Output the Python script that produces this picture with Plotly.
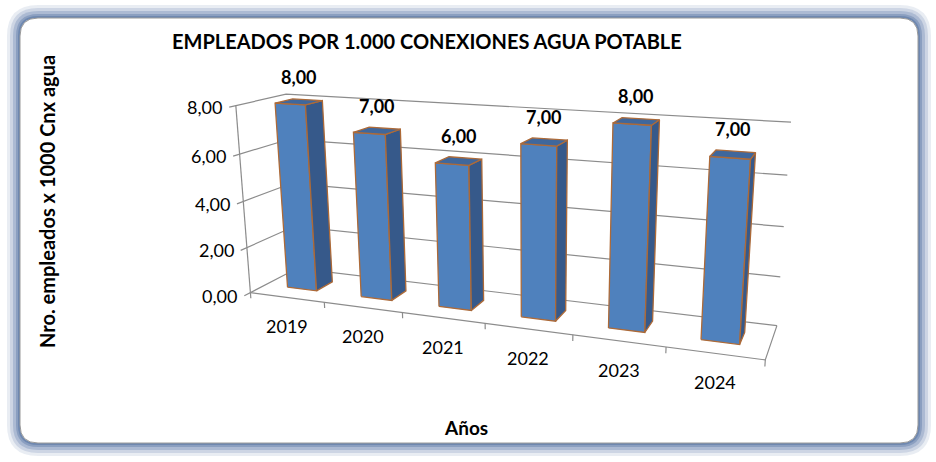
import numpy as np
import plotly.graph_objects as go

# data
years = ["2019", "2020", "2021", "2022", "2023", "2024"]
empleados = [8.00, 7.00, 6.00, 7.00, 8.00, 7.00]
y_ticks = [0, 2, 4, 6, 8]

W, H = 936, 462
FONT = "Lato"
GRID = "#8c8c8c"
EDGE = "#ad6a38"

# calibration of the excel 3-D view: (slot, depth, value) -> pixel
view_world = np.array([
    (0, 0, 0), (0, 0, 8), (0, 1, 8), (0, 1, 0), (6, 1, 8),
    (6, 1, 0), (6, 0, 0), (0, 0, 4), (6, 1, 4), (3, 0, 0),
], dtype=float)
view_pixel = np.array([
    (250, 292), (237, 105), (285, 95), (298, 268), (791, 122),
    (777, 325), (765, 359), (243, 201), (784, 227), (485, 326),
], dtype=float)


def fit_view(world, pixel):
    """DLT fit of a 3x4 perspective matrix."""
    mu = pixel.mean(0)
    s = np.sqrt(2) / np.mean(np.linalg.norm(pixel - mu, axis=1))
    T = np.array([[s, 0, -s * mu[0]], [0, s, -s * mu[1]], [0, 0, 1]])
    pn = (T @ np.c_[pixel, np.ones(len(pixel))].T).T
    rows = []
    for (X, Y, Z), (u, v, _) in zip(world, pn):
        w = [X, Y, Z, 1.0]
        rows.append(w + [0] * 4 + [-u * c for c in w])
        rows.append([0] * 4 + w + [-v * c for c in w])
    _, _, vt = np.linalg.svd(np.array(rows))
    return np.linalg.inv(T) @ vt[-1].reshape(3, 4)


P = fit_view(view_world, view_pixel)


def proj(X, Y, Z):
    h = P @ np.array([X, Y, Z, 1.0])
    return h[0] / h[2], h[1] / h[2]


def polyline(segments):
    xs, ys = [], []
    for seg in segments:
        for p in seg:
            x, y = proj(*p)
            xs.append(x)
            ys.append(y)
        xs.append(None)
        ys.append(None)
    return xs, ys


def rrect(x0, y0, x1, y1, r):
    return (f"M {x0 + r},{y0} L {x1 - r},{y0} Q {x1},{y0} {x1},{y0 + r} "
            f"L {x1},{y1 - r} Q {x1},{y1} {x1 - r},{y1} L {x0 + r},{y1} "
            f"Q {x0},{y1} {x0},{y1 - r} L {x0},{y0 + r} Q {x0},{y0} {x0 + r},{y0} Z")


n = len(years)
zmax = max(y_ticks)
fig = go.Figure()

# walls: gridlines + ticks, axis lines, floor
grid = [[(0, -0.12, z), (0, 0, z), (0, 1, z), (n, 1, z)] for z in y_ticks]
gx, gy = polyline(grid)
fig.add_trace(go.Scatter(x=gx, y=gy, mode="lines", line=dict(color=GRID, width=1.2), hoverinfo="skip"))
axes = [[(0, 0, 0), (0, 0, zmax)], [(0, 0, 0), (n, 0, 0), (n, 1, 0)]]
axes += [[(i, 0, 0), (i, 0, -0.25)] for i in range(n + 1)]
ax_, ay_ = polyline(axes)
fig.add_trace(go.Scatter(x=ax_, y=ay_, mode="lines", line=dict(color=GRID, width=1.2), hoverinfo="skip"))

# bars
half, d0, d1 = 0.2, 0.32, 0.68
for i, v in enumerate(empleados):
    x0, x1 = i + 0.5 - half, i + 0.5 + half
    faces = [
        ([(x0, d0, 0), (x1, d0, 0), (x1, d0, v), (x0, d0, v)], "#4f81bd"),
        ([(x1, d0, 0), (x1, d1, 0), (x1, d1, v), (x1, d0, v)], "#36598a"),
        ([(x0, d0, v), (x1, d0, v), (x1, d1, v), (x0, d1, v)], "#3f679c"),
    ]
    for pts, col in faces:
        fx, fy = polyline([pts + [pts[0]]])
        fig.add_trace(go.Scatter(x=fx[:-1], y=fy[:-1], mode="lines", fill="toself",
                                 fillcolor=col, line=dict(color=EDGE, width=1.3),
                                 hoverinfo="skip"))
    lx, ly = proj(i + 0.5, 0.5, v)
    fig.add_annotation(x=lx, y=ly, yshift=25, text=f"<b>{v:.2f}</b>".replace(".", ","),
                       showarrow=False, font=dict(size=18, color="black", family=FONT))
    cx, cy = proj(i + 0.5, 0, 0)
    fig.add_annotation(x=cx, y=cy, yshift=-29, text=years[i], showarrow=False,
                       font=dict(size=18, color="black", family=FONT))

for z in y_ticks:
    tx, ty = proj(0, -0.12, z)
    fig.add_annotation(x=tx, y=ty, xanchor="right", xshift=-5, text=f"{z:.2f}".replace(".", ","),
                       showarrow=False, font=dict(size=18, color="black", family=FONT))

fig.add_annotation(x=427, y=41, text="<b>EMPLEADOS POR 1.000 CONEXIONES AGUA POTABLE</b>",
                   showarrow=False, font=dict(size=20, color="black", family=FONT))
fig.add_annotation(x=47, y=202, text="<b>Nro. empleados x 1000 Cnx agua</b>", textangle=-90,
                   showarrow=False, font=dict(size=20, color="black", family=FONT))
fig.add_annotation(x=466, y=427, text="<b>Años</b>", showarrow=False,
                   font=dict(size=19, color="black", family=FONT))

# rounded frame with soft blue glow
shapes = []
for pad, op in [(13, 0.12), (10, 0.18), (7, 0.25), (4, 0.35), (2, 0.45)]:
    shapes.append(dict(type="path", path=rrect(20 - pad, 18 - pad, 918 + pad, 443 + pad, 18 + pad),
                       fillcolor="#4d6c9e", opacity=op, line=dict(width=0), layer="below"))
shapes.append(dict(type="path", path=rrect(20, 18, 918, 443, 18), fillcolor="white",
                   line=dict(color="#9a9a9a", width=1), layer="below"))

fig.update_layout(
    width=W, height=H, autosize=False, showlegend=False,
    margin=dict(l=0, r=0, t=0, b=0),
    paper_bgcolor="white", plot_bgcolor="rgba(0,0,0,0)",
    xaxis=dict(range=[0, W], visible=False, fixedrange=True),
    yaxis=dict(range=[H, 0], visible=False, fixedrange=True),
    shapes=shapes,
)
fig.write_html("out.html", config={"displayModeBar": False},
               post_script="document.body.style.margin='0';document.body.style.overflow='hidden';")
